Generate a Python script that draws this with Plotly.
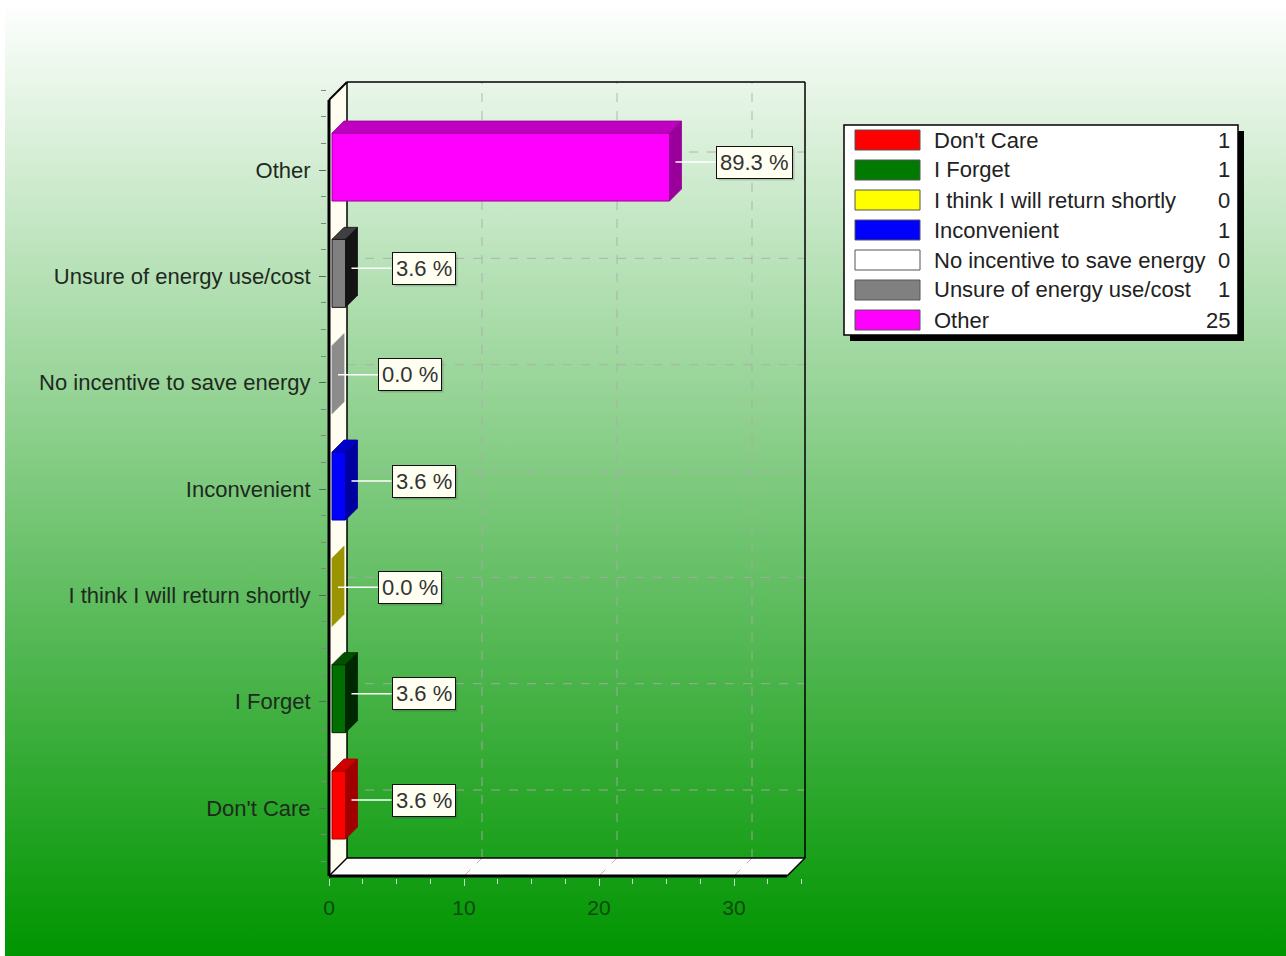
import base64
import plotly.graph_objects as go

# ---- data -------------------------------------------------------------
categories = ["Don't Care", "I Forget", "I think I will return shortly",
              "Inconvenient", "No incentive to save energy",
              "Unsure of energy use/cost", "Other"]
counts = [1, 1, 0, 1, 0, 1, 25]
total_responses = 28
x_ticks = [0, 10, 20, 30]

# ---- styles -----------------------------------------------------------
front_colors = ["#ff0000", "#006e00", "#ffff00", "#0000ff", "#ffffff", "#808080", "#ff00ff"]
top_colors = ["#d00000", "#005000", "#c8c800", "#0000c8", "#c8c8c8", "#404040", "#c000c0"]
side_colors = ["#a00000", "#002800", "#9a9400", "#0000a0", "#8c8c8c", "#141414", "#990099"]
swatch_colors = ["#ff0000", "#007a00", "#ffff00", "#0000ff", "#ffffff", "#808080", "#ff00ff"]

FONT = "Liberation Sans, Arial, sans-serif"
W, H = 1286, 956

# plot area in pixels and axis scale
PL, PR, PT, PB = 327, 808, 81, 878
X0_PX, X_SCALE = 329.0, 13.5          # pixel of x=0, px per unit
Y0_PX, Y_SCALE = 808.0, 106.33        # pixel of first category, px per category
PW, PH = PR - PL, PB - PT

x_range = [(PL - X0_PX) / X_SCALE, (PR - X0_PX) / X_SCALE]
y_range = [(Y0_PX - PB) / Y_SCALE, (Y0_PX - PT) / Y_SCALE]


def dx(px):
    return px / X_SCALE


def dy(px):
    return px / Y_SCALE


def px_x(px):
    return (px - PL) / PW


def px_y(py):
    return (PB - py) / PH


# 3D box geometry (front plane + depth)
FX = dx(787 - X0_PX)            # right end of front plane
YB = -dy(876 - Y0_PX)           # front floor edge
YT = dy(Y0_PX - 100)            # top of front plane
DX, DY = dx(18), dy(18)         # wall depth
BSX, BSY = dx(3), dy(3)         # bar offset from front plane
BDX, BDY = dx(12), dy(12)       # bar depth
BAR_W = dy(68)

fig = go.Figure()

# ---- background gradient ---------------------------------------------
svg = ("<svg xmlns='http://www.w3.org/2000/svg' width='1281' height='956' "
       "preserveAspectRatio='none'><defs><linearGradient id='g' x1='0' y1='0' "
       "x2='0' y2='1'><stop offset='0' stop-color='#ffffff'/>"
       "<stop offset='1' stop-color='#009500'/></linearGradient></defs>"
       "<rect width='100%' height='100%' fill='url(#g)'/></svg>")
uri = "data:image/svg+xml;base64," + base64.b64encode(svg.encode()).decode()
images = [dict(source=uri, xref="paper", yref="paper",
               x=px_x(5), y=px_y(0), sizex=(W - 5) / PW, sizey=H / PH,
               xanchor="left", yanchor="top", sizing="stretch", layer="below")]

shapes = []


def poly(pts, fill, layer="below", line_color=None, lw=0):
    path = "M " + " L ".join(f"{x},{y}" for x, y in pts) + " Z"
    shapes.append(dict(type="path", path=path, xref="x", yref="y",
                       fillcolor=fill, layer=layer,
                       line=dict(color=line_color or fill, width=lw)))


def seg(x0, y0, x1, y1, color="#000000", width=1.5, dash="solid", layer="below"):
    shapes.append(dict(type="line", xref="x", yref="y", x0=x0, y0=y0, x1=x1, y1=y1,
                       layer=layer, line=dict(color=color, width=width, dash=dash)))


# left wall and floor
poly([(0, YB), (0, YT), (DX, YT + DY), (DX, YB + DY)], "#fffdf0")
poly([(0, YB), (DX, YB + DY), (FX + DX, YB + DY), (FX, YB)], "#fdfdfd")

# grid on back wall and floor
GRID = "rgba(170,170,170,0.85)"
for xv in x_ticks[1:]:
    seg(xv + DX, YB + DY, xv + DX, YT + DY, GRID, 1, "dash")
    seg(xv, YB, xv + DX, YB + DY, "rgba(210,160,175,0.9)", 1, "dash")
for i in range(len(categories)):
    seg(DX, i + DY, FX + DX, i + DY, GRID, 1, "dash")

# box frame
seg(DX, YB + DY, DX, YT + DY, width=1.5)
seg(DX, YT + DY, FX + DX, YT + DY, width=1.5)
seg(FX + DX, YT + DY, FX + DX, YB + DY, width=1.5)
seg(DX, YB + DY, FX + DX, YB + DY, width=1.5)
seg(FX + DX, YB + DY, FX, YB, width=1.5)
seg(0, YB, DX, YB + DY, width=1.5)
seg(0, YT, DX, YT + DY, width=2)
seg(0, YB, 0, YT, width=3)
seg(0, YB, FX, YB, width=3)

# ---- bars -------------------------------------------------------------
ys = list(range(len(categories)))
fig.add_trace(go.Bar(
    orientation="h", y=ys, x=counts, base=BSX, width=BAR_W,
    offset=-BAR_W / 2 + BSY,
    marker=dict(color=front_colors,
                line=dict(color=side_colors, width=[1 if c else 0 for c in counts])),
    hoverinfo="skip", showlegend=False))

for i, c in enumerate(counts):
    x0b, x1b = BSX, BSX + c
    yb, yt = i + BSY - BAR_W / 2, i + BSY + BAR_W / 2
    if c:
        poly([(x0b, yt), (x1b, yt), (x1b + BDX, yt + BDY), (x0b + BDX, yt + BDY)],
             top_colors[i], layer="above", line_color=side_colors[i], lw=0.8)
    poly([(x1b, yb), (x1b, yt), (x1b + BDX, yt + BDY), (x1b + BDX, yb + BDY)],
         side_colors[i], layer="above", line_color=side_colors[i], lw=0.8)

# ---- value labels -----------------------------------------------------
annotations = []
for i, c in enumerate(counts):
    pct = c / total_responses * 100
    xa = BSX + c
    label = f"{pct:.1f} %"
    shapes.append(dict(type="line", xref="x", yref="y", xsizemode="pixel",
                       ysizemode="pixel", xanchor=xa, yanchor=i,
                       x0=6, x1=46, y0=8, y1=8, layer="above",
                       line=dict(color="#ffffff", width=1.5)))
    annotations.append(dict(x=xa, y=i, xref="x", yref="y", xanchor="left",
                            yanchor="middle", xshift=48, yshift=6,
                            text=f"<span style='color:rgba(0,0,0,0)'>{label}</span>",
                            showarrow=False, bgcolor="rgba(60,60,60,0.22)",
                            borderpad=3, borderwidth=1,
                            bordercolor="rgba(0,0,0,0)",
                            font=dict(family=FONT, size=22)))
    annotations.append(dict(x=xa, y=i, xref="x", yref="y", xanchor="left",
                            yanchor="middle", xshift=46, yshift=8,
                            text=label, showarrow=False,
                            bgcolor="#fffff2", bordercolor="#111111",
                            borderwidth=1, borderpad=3,
                            font=dict(family=FONT, size=22, color="#333333")))

# ---- legend -----------------------------------------------------------
LX0, LY0, LX1, LY1 = 844, 125, 1238, 335
shapes.append(dict(type="rect", xref="paper", yref="paper",
                   x0=px_x(LX0 + 6), x1=px_x(LX1 + 6), y0=px_y(LY1 + 6), y1=px_y(LY0 + 6),
                   fillcolor="#000000", line=dict(width=0), layer="above"))
shapes.append(dict(type="rect", xref="paper", yref="paper",
                   x0=px_x(LX0), x1=px_x(LX1), y0=px_y(LY1), y1=px_y(LY0),
                   fillcolor="#ffffff", line=dict(color="#000000", width=1.5),
                   layer="above"))
for k, (name, c) in enumerate(zip(categories, counts)):
    cy = 140 + 30 * k
    shapes.append(dict(type="rect", xref="paper", yref="paper",
                       x0=px_x(855), x1=px_x(920), y0=px_y(cy + 10), y1=px_y(cy - 10),
                       fillcolor=swatch_colors[k], layer="above",
                       line=dict(color="#555555", width=1)))
    annotations.append(dict(x=px_x(932), y=px_y(cy), xref="paper", yref="paper",
                            xanchor="left", yanchor="middle", showarrow=False,
                            text=name, font=dict(family=FONT, size=22, color="#222222")))
    annotations.append(dict(x=px_x(1232), y=px_y(cy), xref="paper", yref="paper",
                            xanchor="right", yanchor="middle", showarrow=False,
                            text=str(c), font=dict(family=FONT, size=22, color="#222222")))

fig.update_layout(
    width=W, height=H, autosize=False,
    margin=dict(l=PL, r=W - PR, t=PT, b=H - PB, pad=0),
    paper_bgcolor="#ffffff", plot_bgcolor="rgba(0,0,0,0)",
    images=images, shapes=shapes, annotations=annotations,
    showlegend=False, barmode="overlay",
    xaxis=dict(range=x_range, tickvals=x_ticks, showgrid=False, zeroline=False,
               showline=False, ticks="outside", ticklen=7, tickcolor="#bfe3bf",
               tickwidth=1, ticklabelstandoff=4,
               minor=dict(dtick=2.5, tick0=0, ticks="outside", ticklen=5,
                          tickcolor="#bfe3bf", showgrid=False),
               tickfont=dict(family=FONT, size=21, color="#0a4c0a"),
               fixedrange=True),
    yaxis=dict(range=y_range, tickvals=ys, ticktext=categories, showgrid=False,
               zeroline=False, showline=False, ticks="outside", ticklen=7,
               tickcolor="#5a6a5a", ticklabelstandoff=4,
               minor=dict(dtick=0.25, tick0=0, ticks="outside", ticklen=5,
                          tickcolor="#7a8a7a", showgrid=False),
               tickfont=dict(family=FONT, size=22, color="#1e2a1e"),
               fixedrange=True),
)

fig.write_html("out.html", config={"displayModeBar": False})
